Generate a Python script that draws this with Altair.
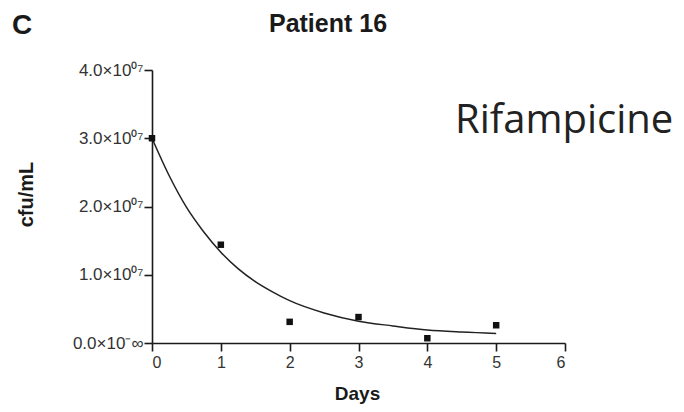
import altair as alt
import pandas as pd

# Measured points (days, cfu/mL)
days = [0, 1, 2, 3, 4, 5]
cfu = [3.0e7, 1.44e7, 0.31e7, 0.38e7, 0.07e7, 0.26e7]

# Fitted decay curve
curve_days = [0, 0.25, 0.5, 0.75, 1, 1.25, 1.5, 1.75, 2, 2.5, 3, 3.5, 4, 4.5, 5]
curve_cfu = [3.0e7, 2.45e7, 1.99e7, 1.63e7, 1.33e7, 1.09e7, 0.90e7, 0.75e7, 0.62e7,
             0.44e7, 0.32e7, 0.25e7, 0.19e7, 0.16e7, 0.14e7]

x_ticks = [0, 1, 2, 3, 4, 5, 6]
y_ticks = [0, 1e7, 2e7, 3e7, 4e7]
y_tick_labels = ["0.0×10⁻∞", "1.0×10⁰⁷", "2.0×10⁰⁷", "3.0×10⁰⁷", "4.0×10⁰⁷"]

panel_letter = "C"
title_text = "Patient 16"
drug_text = "Rifampicine"
x_title = "Days"
y_title = "cfu/mL"

FONT = "Liberation Sans"
INK = "#1a1a1a"

pts = pd.DataFrame({"day": days, "cfu": cfu})
curve = pd.DataFrame({"day": curve_days, "cfu": curve_cfu})

label_expr = " : ".join(
    f"datum.value == {v} ? '{l}'" for v, l in zip(y_ticks, y_tick_labels)
) + " : ''"

x_scale = alt.Scale(domain=[0, 6], nice=False, zero=False)
y_scale = alt.Scale(domain=[0, 4e7], nice=False)

x_axis = alt.Axis(values=x_ticks, format="d", title=x_title, labelFont=FONT, labelFontSize=16,
                  labelColor="#333", titleFont=FONT, titleFontSize=19, titleFontWeight="bold",
                  titleColor=INK, titleX=205, titleY=56, titleBaseline="alphabetic",
                  titleAlign="center",
                  domainColor=INK, domainWidth=1.6, tickColor=INK,
                  tickWidth=1.6, tickSize=8, grid=False, labelPadding=3)
y_axis = alt.Axis(values=y_ticks, labelExpr=label_expr, title=y_title, labelFont=FONT,
                  labelFontSize=17, labelColor="#333", titleFont=FONT, titleFontSize=20,
                  titleFontWeight="bold", titleColor=INK, titleX=-126, titleY=124,
                  titleAngle=-90, titleAlign="center", titleBaseline="middle",
                  domainColor=INK, domainWidth=1.6,
                  tickColor=INK, tickWidth=1.6, tickSize=8, grid=False, labelPadding=1)

line = alt.Chart(curve).mark_line(interpolate="monotone", color="#222", strokeWidth=1.5).encode(
    x=alt.X("day:Q", scale=x_scale, axis=x_axis),
    y=alt.Y("cfu:Q", scale=y_scale, axis=y_axis),
)
points = alt.Chart(pts).mark_square(size=42, color="#111", opacity=1).encode(
    x=alt.X("day:Q", scale=x_scale),
    y=alt.Y("cfu:Q", scale=y_scale),
)

def label(txt, x, y, size, weight, align="left", font=FONT, color=INK):
    return alt.Chart(pd.DataFrame({"t": [txt]})).mark_text(
        font=font, fontSize=size, fontWeight=weight, align=align, baseline="alphabetic",
        color=color).encode(text="t:N", x=alt.value(x), y=alt.value(y))

c_lbl = label(panel_letter, -140, -36, 28, "bold")
t_lbl = label(title_text, 176, -38, 25, "bold", align="center")
d_lbl = label(drug_text, 303, 63, 40, "normal", font="Open Sans", color="#222")

chart = alt.layer(line, points, c_lbl, t_lbl, d_lbl).properties(
    width=413, height=273,
    view=alt.ViewBackground(stroke="transparent", strokeWidth=0),
    autosize=alt.AutoSizeParams(type="none"),
    padding={"left": 144, "top": 62, "right": 111, "bottom": 61},
).configure_view(stroke="transparent", strokeWidth=0).configure(background="white")

chart.save("out.html", embed_options={"renderer": "svg", "actions": False})
